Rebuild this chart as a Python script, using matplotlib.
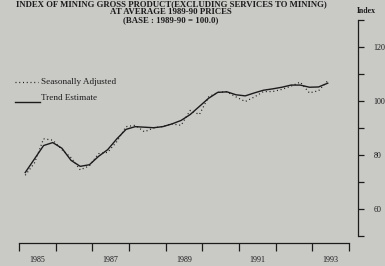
import matplotlib
matplotlib.use("Agg")
import matplotlib.pyplot as plt
from matplotlib.lines import Line2D
import numpy as np

# ---- data (quarterly) ----
start_year = 1985.17
trend = [73.5, 78.5, 83.5, 84.6, 82.5, 78.0, 75.8, 76.4, 79.5, 82.0,
         86.0, 89.5, 90.5, 90.3, 90.1, 90.5, 91.5, 92.8, 95.0, 98.0,
         101.0, 103.2, 103.4, 102.3, 101.9, 103.0, 104.0, 104.5, 105.1, 105.9,
         105.9, 105.1, 105.2, 106.6]
seas_adj = [72.5, 77.0, 86.0, 85.5, 82.0, 79.0, 74.5, 76.0, 80.5, 81.0,
            85.0, 90.5, 91.0, 88.6, 90.0, 90.6, 91.5, 91.0, 96.5, 95.0,
            101.5, 103.2, 103.4, 101.5, 99.8, 101.5, 103.5, 103.5, 104.3, 105.5,
            107.0, 103.0, 103.8, 107.5]
year_labels = ["1985", "1987", "1989", "1991", "1993"]
y_labels = [60, 80, 100, 120]

t = start_year + 0.25 * np.arange(len(trend))

BG = "#c9c9c6"
INK = "#1c1c1c"
W, H = 385, 266

fig = plt.figure(figsize=(W / 100, H / 100), dpi=100, facecolor=BG)

def fx(x):
    return x / W

def fy(y):
    return 1 - y / H

ax = fig.add_axes([fx(19), fy(236), fx(349) - fx(19), fy(20) - fy(236)])
ax.set_facecolor(BG)
ax.set_xlim(1985, 1994)
ax.set_ylim(50, 130)

ax.plot(t, trend, color=INK, lw=1.0)
ax.plot(t, seas_adj, color=INK, lw=0.9, linestyle=(0, (0.8, 2.2)))

serif = ["Liberation Serif", "DejaVu Serif"]

for s in ["top", "left"]:
    ax.spines[s].set_visible(False)
ax.spines["bottom"].set_position(("outward", 5))
ax.spines["right"].set_position(("outward", 6.5))
for s in ["bottom", "right"]:
    ax.spines[s].set_color(INK)
    ax.spines[s].set_linewidth(0.9)

ax.yaxis.tick_right()
ax.set_yticks(np.arange(50, 131, 10))
ax.set_yticklabels([str(v) if v in y_labels else "" for v in range(50, 131, 10)],
                   fontsize=5.8, family=serif, color=INK)
ax.tick_params(axis="y", direction="out", length=4, width=0.9, pad=7, colors=INK)

ax.set_xticks(np.arange(1985, 1995, 1))
ax.set_xticklabels([])
ax.tick_params(axis="x", which="major", direction="out", length=6, width=0.9, colors=INK)
ax.set_xticks([int(y) + 0.5 for y in year_labels], minor=True)
ax.set_xticklabels(year_labels, minor=True, fontsize=5.8, family=serif, color=INK)
ax.tick_params(axis="x", which="minor", length=0, pad=9.5)

# title
title_lines = ["INDEX OF MINING GROSS PRODUCT(EXCLUDING SERVICES TO MINING)",
               "AT AVERAGE 1989-90 PRICES",
               "(BASE : 1989-90 = 100.0)"]
for i, line in enumerate(title_lines):
    fig.text(fx(171), fy(4 + 8 * i), line, ha="center", va="center",
             fontsize=6.3, fontweight="bold", family=serif, color=INK)

fig.text(fx(366), fy(11), "Index", ha="center", va="center",
         fontsize=5.6, fontweight="bold", family=serif, color=INK)

# legend
fig.add_artist(Line2D([fx(15), fx(38)], [fy(82), fy(82)], transform=fig.transFigure,
                      color=INK, lw=0.9, linestyle=(0, (0.8, 2.2))))
fig.text(fx(41), fy(81.5), "Seasonally Adjusted", ha="left", va="center",
         fontsize=6.6, family=serif, color=INK)
fig.add_artist(Line2D([fx(15), fx(40)], [fy(102), fy(102)], transform=fig.transFigure,
                      color=INK, lw=1.0))
fig.text(fx(41), fy(98.5), "Trend Estimate", ha="left", va="center",
         fontsize=6.6, family=serif, color=INK)

fig.savefig("out.png", dpi=100, facecolor=BG)
